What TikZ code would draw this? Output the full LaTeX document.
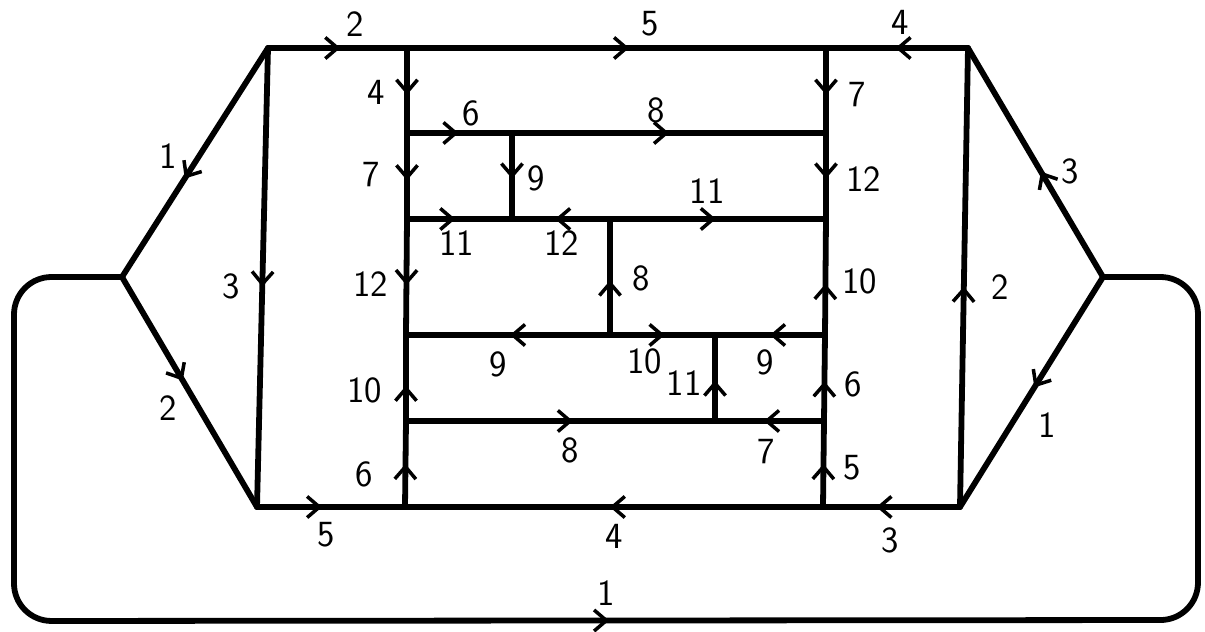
\documentclass[tikz,border=0pt]{standalone}
\usepackage{fontspec}
\usetikzlibrary{arrows.meta,decorations.markings}

\begin{document}
\begin{tikzpicture}[x=0.02cm, y=-0.02cm,
    edge/.style={line width=3.3pt, line cap=round, line join=round},
    marr/.style={postaction={decorate}, decoration={markings, mark=at position #1 with {\arrow{Straight Barb[length=7pt,width=12pt,line width=2pt]}}}},
    lbl/.style={font=\sffamily\fontsize{21}{24}\selectfont, inner sep=1pt}
]
\useasboundingbox (0,0) rectangle (1205,632);

% outer corners
\coordinate (a1) at (268,48);
\coordinate (a2) at (407,48);
\coordinate (a3) at (826,48);
\coordinate (a4) at (968,48);
\coordinate (L) at (122,277);
\coordinate (R) at (1103,277);
\coordinate (b1) at (257,507);
\coordinate (b2) at (405,507);
\coordinate (b3) at (823,507);
\coordinate (b4) at (960,507);
% inner junctions
\coordinate (c1) at (407,133);
\coordinate (c2) at (407,219);
\coordinate (c3) at (406,335);
\coordinate (c4) at (406,421);
\coordinate (d1) at (826,133);
\coordinate (d2) at (826,219);
\coordinate (d3) at (825,335);
\coordinate (d4) at (824,421);
\coordinate (e1) at (512,133);
\coordinate (e2) at (512,219);
\coordinate (f1) at (610,219);
\coordinate (f2) at (610,335);
\coordinate (g1) at (715,335);
\coordinate (g2) at (715,421);
% loop round the bottom
\coordinate (o1) at (14,277);
\coordinate (o2) at (14,621);
\coordinate (o3) at (1198,620);
\coordinate (o4) at (1198,277);

% top
\draw[edge, marr=0.52] (a1) -- node[lbl, above=4pt, pos=0.63] {2} (a2);
\draw[edge, marr=0.53] (a2) -- node[lbl, above=4pt, pos=0.58] {5} (a3);
\draw[edge, marr=0.51] (a4) -- node[lbl, above=5pt, pos=0.48] {4} (a3);

% slanted sides
\draw[edge, marr=0.57] (a1) -- node[lbl, left=10pt, pos=0.47] {1} (L);
\draw[edge, marr=0.45] (L) -- node[lbl, left=10pt, pos=0.57] {2} (b1);
\draw[edge, marr=0.46] (R) -- node[lbl, right=9pt, pos=0.46] {3} (a4);
\draw[edge, marr=0.48] (R) -- node[lbl, right=13pt, pos=0.645] {1} (b4);

% outer columns
\draw[edge, marr=0.52] (a1) -- node[lbl, left=10pt, pos=0.52] {3} (b1);
\draw[edge, marr=0.48] (b4) -- node[lbl, right=13pt, pos=0.48] {2} (a4);

% left inner column
\draw[edge, marr=0.55] (a2) -- node[lbl, left=10pt, pos=0.52] {4} (c1);
\draw[edge, marr=0.55] (c1) -- node[lbl, left=13pt, pos=0.48] {7} (c2);
\draw[edge, marr=0.57] (c2) -- node[lbl, left=8pt, pos=0.56] {12} (c3);
\draw[edge, marr=0.41] (c4) -- node[lbl, left=11pt, pos=0.36] {10} (c3);
\draw[edge, marr=0.50] (b2) -- node[lbl, left=16pt, pos=0.38] {6} (c4);

% right inner column
\draw[edge, marr=0.55] (a3) -- node[lbl, right=10pt, pos=0.55] {7} (d1);
\draw[edge, marr=0.53] (d1) -- node[lbl, right=9pt, pos=0.54] {12} (d2);
\draw[edge, marr=0.44] (d3) -- node[lbl, right=7pt, pos=0.46] {10} (d2);
\draw[edge, marr=0.46] (d4) -- node[lbl, right=9pt, pos=0.42] {6} (d3);
\draw[edge, marr=0.50] (b3) -- node[lbl, right=9pt, pos=0.46] {5} (d4);

% first row
\draw[edge, marr=0.49] (c1) -- node[lbl, above=1pt, pos=0.61] {6} (e1);
\draw[edge, marr=0.50] (e1) -- node[lbl, above=3pt, pos=0.46] {8} (d1);
\draw[edge, marr=0.53] (e1) -- node[lbl, right=6pt, pos=0.53] {9} (e2);

% second row
\draw[edge, marr=0.46] (c2) -- node[lbl, below=4pt, pos=0.47] {11} (e2);
\draw[edge, marr=0.56] (f1) -- node[lbl, below=4pt, pos=0.49] {12} (e2);
\draw[edge, marr=0.49] (f1) -- node[lbl, above=6pt, pos=0.45] {11} (d2);
\draw[edge, marr=0.47] (f2) -- node[lbl, right=10pt, pos=0.49] {8} (f1);

% third row
\draw[edge, marr=0.49] (f2) -- node[lbl, below=7pt, pos=0.55] {9} (c3);
\draw[edge, marr=0.52] (f2) -- node[lbl, below=5pt, pos=0.33] {10} (g1);
\draw[edge, marr=0.50] (d3) -- node[lbl, below=6pt, pos=0.54] {9} (g1);
\draw[edge, marr=0.47] (g2) -- node[lbl, left=5pt, pos=0.44] {11} (g1);

% fourth row
\draw[edge, marr=0.54] (c4) -- node[lbl, below=7pt, pos=0.53] {8} (g2);
\draw[edge, marr=0.55] (d4) -- node[lbl, below=8pt, pos=0.53] {7} (g2);

% bottom
\draw[edge, marr=0.44] (b1) -- node[lbl, below=6pt, pos=0.47] {5} (b2);
\draw[edge, marr=0.51] (b3) -- node[lbl, below=7pt, pos=0.50] {4} (b2);
\draw[edge, marr=0.61] (b4) -- node[lbl, below=9pt, pos=0.51] {3} (b3);

% loop
\draw[edge, rounded corners=0.75cm, marr=0.505] (L) -- (o1) -- (o2) -- node[lbl, above=6pt, pos=0.5] {1} (o3) -- (o4) -- (R);
\end{tikzpicture}
\end{document}
